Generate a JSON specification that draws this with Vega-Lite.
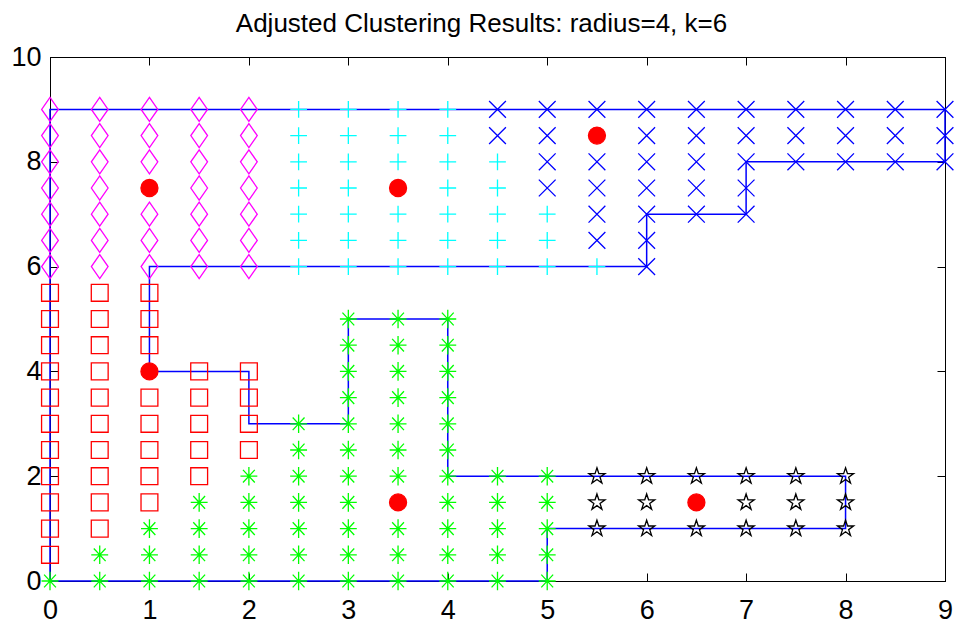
{
  "$schema": "https://vega.github.io/schema/vega-lite/v6.json",
  "width": 895,
  "height": 524,
  "autosize": {"type": "none"},
  "padding": {"left": 50, "top": 57, "right": 11, "bottom": 43},
  "background": "white",
  "title": {
    "text": "Adjusted Clustering Results: radius=4, k=6",
    "font": "Liberation Sans",
    "fontSize": 26,
    "fontWeight": "normal",
    "color": "black",
    "anchor": "middle",
    "baseline": "alphabetic",
    "offset": -15,
    "dx": -16
  },
  "config": {
    "view": {"stroke": "black", "strokeWidth": 1},
    "axis": {
      "labelFont": "Liberation Sans",
      "labelFontSize": 27,
      "labelColor": "black",
      "labelFlush": false,
      "labelOverlap": false,
      "domainColor": "black",
      "domainWidth": 1,
      "tickColor": "black",
      "tickWidth": 1,
      "tickSize": -8,
      "grid": false,
      "title": null
    }
  },
  "datasets": {
    "path": [
      {"x": 0, "y": 0, "o": 0}, {"x": 0, "y": 9, "o": 1}, {"x": 9, "y": 9, "o": 2},
      {"x": 9, "y": 8, "o": 3}, {"x": 7, "y": 8, "o": 4}, {"x": 7, "y": 7, "o": 5},
      {"x": 6, "y": 7, "o": 6}, {"x": 6, "y": 6, "o": 7}, {"x": 1, "y": 6, "o": 8},
      {"x": 1, "y": 4, "o": 9}, {"x": 2, "y": 4, "o": 10}, {"x": 2, "y": 3, "o": 11},
      {"x": 3, "y": 3, "o": 12}, {"x": 3, "y": 5, "o": 13}, {"x": 4, "y": 5, "o": 14},
      {"x": 4, "y": 2, "o": 15}, {"x": 8, "y": 2, "o": 16}, {"x": 8, "y": 1, "o": 17},
      {"x": 5, "y": 1, "o": 18}, {"x": 5, "y": 0, "o": 19}, {"x": 0, "y": 0, "o": 20}
    ],
    "pts": [
      {"x": 0, "y": 6, "g": "m"}, {"x": 0, "y": 6.5, "g": "m"}, {"x": 0, "y": 7, "g": "m"}, {"x": 0, "y": 7.5, "g": "m"}, {"x": 0, "y": 8, "g": "m"}, {"x": 0, "y": 8.5, "g": "m"}, {"x": 0, "y": 9, "g": "m"},
      {"x": 0.5, "y": 6, "g": "m"}, {"x": 0.5, "y": 6.5, "g": "m"}, {"x": 0.5, "y": 7, "g": "m"}, {"x": 0.5, "y": 7.5, "g": "m"}, {"x": 0.5, "y": 8, "g": "m"}, {"x": 0.5, "y": 8.5, "g": "m"}, {"x": 0.5, "y": 9, "g": "m"},
      {"x": 1, "y": 6, "g": "m"}, {"x": 1, "y": 6.5, "g": "m"}, {"x": 1, "y": 7, "g": "m"}, {"x": 1, "y": 8, "g": "m"}, {"x": 1, "y": 8.5, "g": "m"}, {"x": 1, "y": 9, "g": "m"},
      {"x": 1.5, "y": 6, "g": "m"}, {"x": 1.5, "y": 6.5, "g": "m"}, {"x": 1.5, "y": 7, "g": "m"}, {"x": 1.5, "y": 7.5, "g": "m"}, {"x": 1.5, "y": 8, "g": "m"}, {"x": 1.5, "y": 8.5, "g": "m"}, {"x": 1.5, "y": 9, "g": "m"},
      {"x": 2, "y": 6, "g": "m"}, {"x": 2, "y": 6.5, "g": "m"}, {"x": 2, "y": 7, "g": "m"}, {"x": 2, "y": 7.5, "g": "m"}, {"x": 2, "y": 8, "g": "m"}, {"x": 2, "y": 8.5, "g": "m"}, {"x": 2, "y": 9, "g": "m"},

      {"x": 2.5, "y": 6, "g": "c"}, {"x": 2.5, "y": 6.5, "g": "c"}, {"x": 2.5, "y": 7, "g": "c"}, {"x": 2.5, "y": 7.5, "g": "c"}, {"x": 2.5, "y": 8, "g": "c"}, {"x": 2.5, "y": 8.5, "g": "c"}, {"x": 2.5, "y": 9, "g": "c"},
      {"x": 3, "y": 6, "g": "c"}, {"x": 3, "y": 6.5, "g": "c"}, {"x": 3, "y": 7, "g": "c"}, {"x": 3, "y": 7.5, "g": "c"}, {"x": 3, "y": 8, "g": "c"}, {"x": 3, "y": 8.5, "g": "c"}, {"x": 3, "y": 9, "g": "c"},
      {"x": 3.5, "y": 6, "g": "c"}, {"x": 3.5, "y": 6.5, "g": "c"}, {"x": 3.5, "y": 7, "g": "c"}, {"x": 3.5, "y": 8, "g": "c"}, {"x": 3.5, "y": 8.5, "g": "c"}, {"x": 3.5, "y": 9, "g": "c"},
      {"x": 4, "y": 6, "g": "c"}, {"x": 4, "y": 6.5, "g": "c"}, {"x": 4, "y": 7, "g": "c"}, {"x": 4, "y": 7.5, "g": "c"}, {"x": 4, "y": 8, "g": "c"}, {"x": 4, "y": 8.5, "g": "c"}, {"x": 4, "y": 9, "g": "c"},
      {"x": 4.5, "y": 6, "g": "c"}, {"x": 4.5, "y": 6.5, "g": "c"}, {"x": 4.5, "y": 7, "g": "c"}, {"x": 4.5, "y": 7.5, "g": "c"}, {"x": 4.5, "y": 8, "g": "c"},
      {"x": 5, "y": 6, "g": "c"}, {"x": 5, "y": 6.5, "g": "c"}, {"x": 5, "y": 7, "g": "c"},
      {"x": 5.5, "y": 6, "g": "c"},

      {"x": 4.5, "y": 8.5, "g": "b"}, {"x": 4.5, "y": 9, "g": "b"},
      {"x": 5, "y": 7.5, "g": "b"}, {"x": 5, "y": 8, "g": "b"}, {"x": 5, "y": 8.5, "g": "b"}, {"x": 5, "y": 9, "g": "b"},
      {"x": 5.5, "y": 6.5, "g": "b"}, {"x": 5.5, "y": 7, "g": "b"}, {"x": 5.5, "y": 7.5, "g": "b"}, {"x": 5.5, "y": 8, "g": "b"}, {"x": 5.5, "y": 9, "g": "b"},
      {"x": 6, "y": 6, "g": "b"}, {"x": 6, "y": 6.5, "g": "b"}, {"x": 6, "y": 7, "g": "b"}, {"x": 6, "y": 7.5, "g": "b"}, {"x": 6, "y": 8, "g": "b"}, {"x": 6, "y": 8.5, "g": "b"}, {"x": 6, "y": 9, "g": "b"},
      {"x": 6.5, "y": 7, "g": "b"}, {"x": 6.5, "y": 7.5, "g": "b"}, {"x": 6.5, "y": 8, "g": "b"}, {"x": 6.5, "y": 8.5, "g": "b"}, {"x": 6.5, "y": 9, "g": "b"},
      {"x": 7, "y": 7, "g": "b"}, {"x": 7, "y": 7.5, "g": "b"}, {"x": 7, "y": 8, "g": "b"}, {"x": 7, "y": 8.5, "g": "b"}, {"x": 7, "y": 9, "g": "b"},
      {"x": 7.5, "y": 8, "g": "b"}, {"x": 7.5, "y": 8.5, "g": "b"}, {"x": 7.5, "y": 9, "g": "b"},
      {"x": 8, "y": 8, "g": "b"}, {"x": 8, "y": 8.5, "g": "b"}, {"x": 8, "y": 9, "g": "b"},
      {"x": 8.5, "y": 8, "g": "b"}, {"x": 8.5, "y": 8.5, "g": "b"}, {"x": 8.5, "y": 9, "g": "b"},
      {"x": 9, "y": 8, "g": "b"}, {"x": 9, "y": 8.5, "g": "b"}, {"x": 9, "y": 9, "g": "b"},

      {"x": 0, "y": 0.5, "g": "r"}, {"x": 0, "y": 1, "g": "r"}, {"x": 0, "y": 1.5, "g": "r"}, {"x": 0, "y": 2, "g": "r"}, {"x": 0, "y": 2.5, "g": "r"}, {"x": 0, "y": 3, "g": "r"}, {"x": 0, "y": 3.5, "g": "r"}, {"x": 0, "y": 4, "g": "r"}, {"x": 0, "y": 4.5, "g": "r"}, {"x": 0, "y": 5, "g": "r"}, {"x": 0, "y": 5.5, "g": "r"},
      {"x": 0.5, "y": 1, "g": "r"}, {"x": 0.5, "y": 1.5, "g": "r"}, {"x": 0.5, "y": 2, "g": "r"}, {"x": 0.5, "y": 2.5, "g": "r"}, {"x": 0.5, "y": 3, "g": "r"}, {"x": 0.5, "y": 3.5, "g": "r"}, {"x": 0.5, "y": 4, "g": "r"}, {"x": 0.5, "y": 4.5, "g": "r"}, {"x": 0.5, "y": 5, "g": "r"}, {"x": 0.5, "y": 5.5, "g": "r"},
      {"x": 1, "y": 1.5, "g": "r"}, {"x": 1, "y": 2, "g": "r"}, {"x": 1, "y": 2.5, "g": "r"}, {"x": 1, "y": 3, "g": "r"}, {"x": 1, "y": 3.5, "g": "r"}, {"x": 1, "y": 4.5, "g": "r"}, {"x": 1, "y": 5, "g": "r"}, {"x": 1, "y": 5.5, "g": "r"},
      {"x": 1.5, "y": 2, "g": "r"}, {"x": 1.5, "y": 2.5, "g": "r"}, {"x": 1.5, "y": 3, "g": "r"}, {"x": 1.5, "y": 3.5, "g": "r"}, {"x": 1.5, "y": 4, "g": "r"},
      {"x": 2, "y": 2.5, "g": "r"}, {"x": 2, "y": 3, "g": "r"}, {"x": 2, "y": 3.5, "g": "r"}, {"x": 2, "y": 4, "g": "r"},

      {"x": 0, "y": 0, "g": "g"},
      {"x": 0.5, "y": 0, "g": "g"}, {"x": 0.5, "y": 0.5, "g": "g"},
      {"x": 1, "y": 0, "g": "g"}, {"x": 1, "y": 0.5, "g": "g"}, {"x": 1, "y": 1, "g": "g"},
      {"x": 1.5, "y": 0, "g": "g"}, {"x": 1.5, "y": 0.5, "g": "g"}, {"x": 1.5, "y": 1, "g": "g"}, {"x": 1.5, "y": 1.5, "g": "g"},
      {"x": 2, "y": 0, "g": "g"}, {"x": 2, "y": 0.5, "g": "g"}, {"x": 2, "y": 1, "g": "g"}, {"x": 2, "y": 1.5, "g": "g"}, {"x": 2, "y": 2, "g": "g"},
      {"x": 2.5, "y": 0, "g": "g"}, {"x": 2.5, "y": 0.5, "g": "g"}, {"x": 2.5, "y": 1, "g": "g"}, {"x": 2.5, "y": 1.5, "g": "g"}, {"x": 2.5, "y": 2, "g": "g"}, {"x": 2.5, "y": 2.5, "g": "g"}, {"x": 2.5, "y": 3, "g": "g"},
      {"x": 3, "y": 0, "g": "g"}, {"x": 3, "y": 0.5, "g": "g"}, {"x": 3, "y": 1, "g": "g"}, {"x": 3, "y": 1.5, "g": "g"}, {"x": 3, "y": 2, "g": "g"}, {"x": 3, "y": 2.5, "g": "g"}, {"x": 3, "y": 3, "g": "g"}, {"x": 3, "y": 3.5, "g": "g"}, {"x": 3, "y": 4, "g": "g"}, {"x": 3, "y": 4.5, "g": "g"}, {"x": 3, "y": 5, "g": "g"},
      {"x": 3.5, "y": 0, "g": "g"}, {"x": 3.5, "y": 0.5, "g": "g"}, {"x": 3.5, "y": 1, "g": "g"}, {"x": 3.5, "y": 2, "g": "g"}, {"x": 3.5, "y": 2.5, "g": "g"}, {"x": 3.5, "y": 3, "g": "g"}, {"x": 3.5, "y": 3.5, "g": "g"}, {"x": 3.5, "y": 4, "g": "g"}, {"x": 3.5, "y": 4.5, "g": "g"}, {"x": 3.5, "y": 5, "g": "g"},
      {"x": 4, "y": 0, "g": "g"}, {"x": 4, "y": 0.5, "g": "g"}, {"x": 4, "y": 1, "g": "g"}, {"x": 4, "y": 1.5, "g": "g"}, {"x": 4, "y": 2, "g": "g"}, {"x": 4, "y": 2.5, "g": "g"}, {"x": 4, "y": 3, "g": "g"}, {"x": 4, "y": 3.5, "g": "g"}, {"x": 4, "y": 4, "g": "g"}, {"x": 4, "y": 4.5, "g": "g"}, {"x": 4, "y": 5, "g": "g"},
      {"x": 4.5, "y": 0, "g": "g"}, {"x": 4.5, "y": 0.5, "g": "g"}, {"x": 4.5, "y": 1, "g": "g"}, {"x": 4.5, "y": 1.5, "g": "g"}, {"x": 4.5, "y": 2, "g": "g"},
      {"x": 5, "y": 0, "g": "g"}, {"x": 5, "y": 0.5, "g": "g"}, {"x": 5, "y": 1, "g": "g"}, {"x": 5, "y": 1.5, "g": "g"}, {"x": 5, "y": 2, "g": "g"},

      {"x": 5.5, "y": 1, "g": "s"}, {"x": 5.5, "y": 1.5, "g": "s"}, {"x": 5.5, "y": 2, "g": "s"},
      {"x": 6, "y": 1, "g": "s"}, {"x": 6, "y": 1.5, "g": "s"}, {"x": 6, "y": 2, "g": "s"},
      {"x": 6.5, "y": 1, "g": "s"}, {"x": 6.5, "y": 2, "g": "s"},
      {"x": 7, "y": 1, "g": "s"}, {"x": 7, "y": 1.5, "g": "s"}, {"x": 7, "y": 2, "g": "s"},
      {"x": 7.5, "y": 1, "g": "s"}, {"x": 7.5, "y": 1.5, "g": "s"}, {"x": 7.5, "y": 2, "g": "s"},
      {"x": 8, "y": 1, "g": "s"}, {"x": 8, "y": 1.5, "g": "s"}, {"x": 8, "y": 2, "g": "s"},

      {"x": 1, "y": 7.5, "g": "k"}, {"x": 3.5, "y": 7.5, "g": "k"}, {"x": 5.5, "y": 8.5, "g": "k"},
      {"x": 1, "y": 4, "g": "k"}, {"x": 3.5, "y": 1.5, "g": "k"}, {"x": 6.5, "y": 1.5, "g": "k"}
    ]
  },
  "layer": [
    {
      "data": {"name": "path"},
      "mark": {"type": "line", "color": "#0000ff", "strokeWidth": 1.5},
      "encoding": {
        "x": {"field": "x", "type": "quantitative", "scale": {"domain": [0, 9], "nice": false, "zero": false},
              "axis": {"orient": "bottom", "values": [0, 1, 2, 3, 4, 5, 6, 7, 8, 9], "labelPadding": 24}},
        "y": {"field": "y", "type": "quantitative", "scale": {"domain": [0, 10], "nice": false, "zero": false},
              "axis": {"orient": "left", "values": [0, 2, 4, 6, 8, 10], "labelPadding": 17}},
        "order": {"field": "o", "type": "quantitative"}
      }
    },
    {
      "data": {"name": "pts"},
      "mark": {"type": "point", "opacity": 1, "strokeWidth": 1.3},
      "encoding": {
        "x": {"field": "x", "type": "quantitative",
              "axis": {"orient": "top", "values": [0, 1, 2, 3, 4, 5, 6, 7, 8, 9], "labels": false}},
        "y": {"field": "y", "type": "quantitative",
              "axis": {"orient": "right", "values": [0, 2, 4, 6, 8, 10], "labels": false}},
        "shape": {"field": "g", "type": "nominal", "legend": null,
                  "scale": {"domain": ["m", "c", "b", "r", "g", "s", "k"],
                            "range": [
                              "M0,-1.44L1,0L0,1.44L-1,0Z",
                              "M-1,0L1,0M0,-1L0,1",
                              "M-1,-1L1,1M-1,1L1,-1",
                              "square",
                              "M-1,0L1,0M0,-1.1L0,1.1M-0.7,-0.75L0.7,0.75M-0.7,0.75L0.7,-0.75",
                              "M0,-1L0.225,-0.309L0.951,-0.309L0.363,0.118L0.588,0.809L0,0.382L-0.588,0.809L-0.363,0.118L-0.951,-0.309L-0.225,-0.309Z",
                              "circle"
                            ]}},
        "size": {"field": "g", "type": "nominal", "legend": null,
                 "scale": {"domain": ["m", "c", "b", "r", "g", "s", "k"],
                           "range": [279, 289, 144, 196, 256, 400, 240]}},
        "stroke": {"field": "g", "type": "nominal", "legend": null,
                   "scale": {"domain": ["m", "c", "b", "r", "g", "s", "k"],
                             "range": ["#ff00ff", "#00ffff", "#0000ff", "#ff0000", "#00ff00", "#000000", "#ff0000"]}},
        "fill": {"field": "g", "type": "nominal", "legend": null,
                 "scale": {"domain": ["m", "c", "b", "r", "g", "s", "k"],
                           "range": ["transparent", "transparent", "transparent", "transparent", "transparent", "transparent", "#ff0000"]}}
      }
    }
  ],
  "resolve": {"axis": {"x": "independent", "y": "independent"}}
}
